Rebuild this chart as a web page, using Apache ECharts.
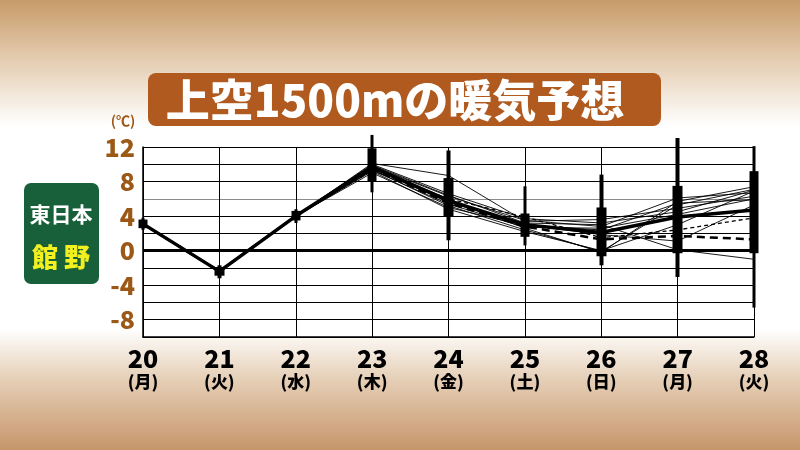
<!DOCTYPE html>
<html><head><meta charset="utf-8">
<script src="https://cdn.jsdelivr.net/npm/echarts@6/dist/echarts.min.js"></script>
<style>
html,body{margin:0;padding:0;}
#c{width:800px;height:450px;background:linear-gradient(to bottom,#c79b69 0%,#e2c8aa 12%,#ffffff 28%,#ffffff 73%,#e6d0b8 84%,#c6966a 100%);}
</style></head>
<body><div id="c"></div>
<script>
const days = ['20','21','22','23','24','25','26','27','28'];
const weekdays = ['(月)','(火)','(水)','(木)','(金)','(土)','(日)','(月)','(火)'];
const control = [3.1,-2.4,4.0,9.7,5.8,3.0,2.1,3.9,4.7];
const longDash = [3.1,-2.4,4.0,9.5,5.5,2.8,1.3,1.7,1.3];
const shortDash = [3.1,-2.4,4.0,9.3,6.0,3.9,1.5,2.4,3.8];
const members = [
  [3.1,-2.4,4.0,10.1,8.7,3.4,3.6,4.9,6.3],
  [3.1,-2.4,4.0,9.9,6.4,3.2,3.0,0.1,-1.0],
  [3.1,-2.4,4.0,9.6,6.0,2.6,-0.2,5.7,7.4],
  [3.1,-2.4,4.0,9.4,5.2,2.4,-0.1,5.3,7.1],
  [3.1,-2.4,4.0,9.2,4.8,2.2,0.0,3.0,6.9],
  [3.1,-2.4,4.0,9.8,6.3,3.5,2.8,6.1,6.7],
  [3.1,-2.4,4.0,9.0,5.0,2.9,2.4,5.5,5.9],
  [3.1,-2.4,4.0,9.5,5.6,3.0,1.85,1.1,5.3],
  [3.1,-2.4,4.0,10.0,6.6,3.7,3.2,4.5,7.0],
  [3.1,-2.4,4.0,9.3,5.4,2.7,2.6,4.2,6.0]
];
// box (25%-75%) and whisker (min-max) ranges
const boxLow  = [2.6,-2.9,3.5,8.0,3.9,1.6,-0.65,-0.3,-0.3];
const boxHigh = [3.6,-1.9,4.6,11.85,8.4,4.3,5.0,7.5,9.2];
const whiskLow  = [2.4,-3.2,3.2,6.75,1.2,0.6,-1.7,-3.05,-6.6];
const whiskHigh = [3.8,-1.7,4.8,13.4,11.6,7.45,8.8,13.05,12.1];
const yTicks = [12,8,4,0,-4,-8];

const chart = echarts.init(document.getElementById('c'));
const series = [];
members.forEach(m => series.push({type:'line',data:m,symbol:'none',silent:true,lineStyle:{color:'#000',width:0.9},z:3}));
series.push({type:'line',data:shortDash,symbol:'none',lineStyle:{color:'#000',width:1.3,type:[4,3]},z:4});
series.push({type:'line',data:longDash,symbol:'none',lineStyle:{color:'#000',width:2.5,type:[8,5]},z:4});
series.push({type:'line',data:control,symbol:'none',lineStyle:{color:'#000',width:3.5},z:5,
  markLine:{silent:true,symbol:'none',label:{show:false},lineStyle:{color:'#000',width:3,type:'solid'},data:[{yAxis:0}]}});
series.push({type:'candlestick',barWidth:4,clip:false,z:6,
  itemStyle:{color:'#000',color0:'#000',borderColor:'#000',borderColor0:'#000',borderWidth:0},
  data:days.map((d,i)=>[whiskLow[i],whiskHigh[i],whiskLow[i],whiskHigh[i]])});
series.push({type:'candlestick',barWidth:10,clip:false,z:7,
  itemStyle:{color:'#000',color0:'#000',borderColor:'#000',borderColor0:'#000',borderWidth:0},
  data:days.map((d,i)=>[boxLow[i],boxHigh[i],boxLow[i],boxHigh[i]])});

const gridColors = ['#000','#000','#000','#000','#000','#000','#000','#000','#8a8a8a','#000','#000','#000'];
chart.setOption({
  animation:false,
  backgroundColor:'transparent',
  grid:{left:143,right:46,top:147,bottom:113,show:true,backgroundColor:'#fff',borderWidth:0},
  xAxis:{type:'category',data:days,boundaryGap:false,
    axisLine:{onZero:false,lineStyle:{color:'#000',width:1.5}},axisTick:{show:false},
    splitLine:{show:true,lineStyle:{color:'#000',width:1}},
    axisLabel:{margin:8,interval:0,
      formatter:(v,i)=>'{d|'+v+'}\n{w|'+weekdays[i]+'}',
      rich:{d:{fontFamily:'Noto Sans CJK JP',fontWeight:900,fontSize:25,color:'#000',lineHeight:26},
            w:{fontFamily:'Noto Sans CJK JP',fontWeight:900,fontSize:17,color:'#000',lineHeight:22}}}},
  yAxis:{type:'value',min:-10,max:12,interval:2,
    axisLine:{show:true,lineStyle:{color:'#000',width:1.5}},axisTick:{show:false},
    splitLine:{show:true,lineStyle:{color:gridColors,width:1.2}},
    axisLabel:{margin:8,fontFamily:'Noto Sans CJK JP',fontWeight:900,fontSize:25,color:'#9c5817',
      formatter:v=>yTicks.includes(v)?String(v):''}},
  graphic:[
    {type:'rect',shape:{x:148,y:73,width:513,height:53,r:8},style:{fill:'#b05a20'},z:10},
    {type:'text',x:395,y:100,style:{text:'上空1500mの暖気予想',fill:'#fff',font:'900 44px "Noto Sans CJK JP"',align:'center',verticalAlign:'middle'},z:11},
    {type:'text',x:123,y:121,style:{text:'(℃)',fill:'#9c5817',font:'bold 14px "Noto Sans CJK JP"',align:'center',verticalAlign:'middle'},z:11},
    {type:'rect',shape:{x:24,y:183,width:75,height:101,r:7},style:{fill:'#17603a'},z:10},
    {type:'text',x:61,y:214,style:{text:'東日本',fill:'#fff',font:'bold 21px "Noto Sans CJK JP"',align:'center',verticalAlign:'middle'},z:11},
    {type:'text',x:61,y:257,style:{text:'館 野',fill:'#f2f01e',font:'900 26px "Noto Sans CJK JP"',align:'center',verticalAlign:'middle'},z:11}
  ],
  series:series
});
</script></body></html>
